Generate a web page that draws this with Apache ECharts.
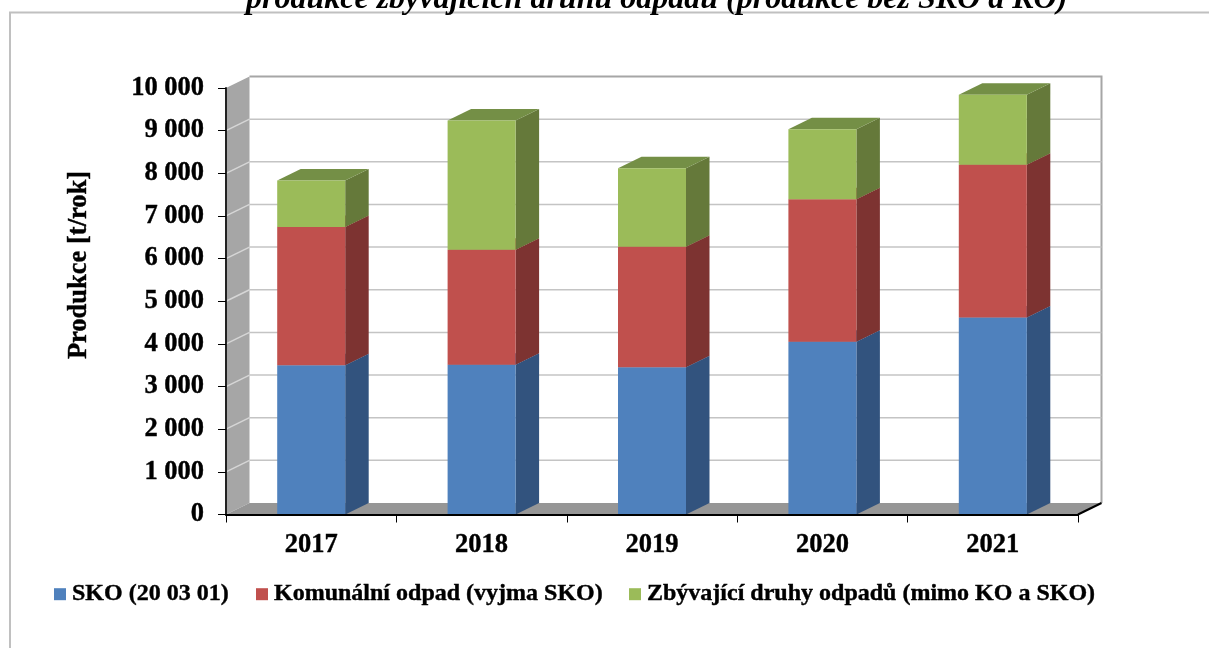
<!DOCTYPE html>
<html>
<head>
<meta charset="utf-8">
<title>Produkce odpadů</title>
<script src="https://cdn.jsdelivr.net/npm/echarts@6/dist/echarts.min.js"></script>
<style>
  html, body { margin: 0; padding: 0; background: #fff; overflow: hidden; }
  #main-chart { width: 1209px; height: 648px; }
</style>
</head>
<body>
<div id="main-chart"></div>
<script>
const years = ['2017', '2018', '2019', '2020', '2021']
const sko = [3500, 3510, 3450, 4050, 4620]
const komunalni = [3240, 2700, 2830, 3340, 3580]
const zbyvajici = [1090, 3030, 1840, 1640, 1640]
const yTicks = [0, 1000, 2000, 3000, 4000, 5000, 6000, 7000, 8000, 9000, 10000]

const FONT = '"Liberation Serif", "Times New Roman", serif'
const DEPTH_X = 23.5
const DEPTH_Y = -11.5
const BAR_WIDTH = 68
// the source text is slightly heavier than Liberation bold, a hairline outline evens it out
const HEAVY = { textBorderColor: '#000', textBorderWidth: 0.4 }

const stackSeries = [
  { name: 'SKO (20 03 01)', values: sko, front: '#4f81bd', side: '#32537e', top: '#4070a5' },
  { name: 'Komunální odpad (vyjma SKO)', values: komunalni, front: '#c0504d', side: '#7d3331', top: '#a04340' },
  { name: 'Zbývající druhy odpadů (mimo KO a SKO)', values: zbyvajici, front: '#9bbb59', side: '#65793a', top: '#748f46' },
]

function poly(points, fill) {
  return { type: 'polygon', silent: true, shape: { points }, style: { fill } }
}

function renderWalls(params, api) {
  const x0 = params.coordSys.x
  const x1 = x0 + params.coordSys.width
  const [, y0] = api.coord([0, 0])
  const [, yTop] = api.coord([0, 10000])
  const children = [
    poly([[x0, y0], [x0 + DEPTH_X, y0 + DEPTH_Y], [x0 + DEPTH_X, yTop + DEPTH_Y], [x0, yTop]], '#a6a6a6'),
    poly([[x0, y0], [x1, y0], [x1 + DEPTH_X, y0 + DEPTH_Y], [x0 + DEPTH_X, y0 + DEPTH_Y]], '#969696'),
    {
      type: 'polyline',
      silent: true,
      shape: { points: [[x0 + DEPTH_X, yTop + DEPTH_Y], [x1 + DEPTH_X, yTop + DEPTH_Y], [x1 + DEPTH_X, y0 + DEPTH_Y]] },
      style: { stroke: '#a6a6a6', lineWidth: 2, fill: null },
    },
    {
      type: 'line',
      silent: true,
      shape: { x1: x1, y1: y0, x2: x1 + DEPTH_X, y2: y0 + DEPTH_Y },
      style: { stroke: '#000', lineWidth: 2 },
    },
  ]
  return { type: 'group', children }
}

function renderGridline(params, api) {
  const x0 = params.coordSys.x
  const x1 = x0 + params.coordSys.width
  const [, y] = api.coord([0, api.value(1)])
  const yBack = y + DEPTH_Y
  if (api.value(1) === 0 || api.value(1) === 10000) return { type: 'group', children: [] }
  return {
    type: 'group',
    children: [
      { type: 'line', silent: true, shape: { x1: x0 + DEPTH_X, y1: yBack, x2: x1 + DEPTH_X, y2: yBack }, style: { stroke: '#c4c4c4', lineWidth: 1.5 } },
      { type: 'line', silent: true, shape: { x1: x0, y1: y, x2: x0 + DEPTH_X, y2: yBack }, style: { stroke: '#d6d6d6', lineWidth: 1.5 } },
    ],
  }
}

function renderSegment(seriesIndex) {
  const cfg = stackSeries[seriesIndex]
  return (params, api) => {
    const i = api.value(0)
    let base = 0
    for (let s = 0; s < seriesIndex; s++) base += stackSeries[s].values[i]
    const total = base + cfg.values[i]
    const [cx, yBase] = api.coord([i, base])
    const [, yTotal] = api.coord([i, total])
    const left = cx - BAR_WIDTH / 2
    const right = cx + BAR_WIDTH / 2
    const children = [
      poly([[right, yBase], [right + DEPTH_X, yBase + DEPTH_Y], [right + DEPTH_X, yTotal + DEPTH_Y], [right, yTotal]], cfg.side),
      poly([[left, yTotal], [right, yTotal], [right + DEPTH_X, yTotal + DEPTH_Y], [left + DEPTH_X, yTotal + DEPTH_Y]], cfg.top),
      poly([[left, yBase], [right, yBase], [right, yTotal], [left, yTotal]], cfg.front),
    ]
    return { type: 'group', children }
  }
}

function legendAt(left, name) {
  return {
    left,
    top: 577,
    icon: 'rect',
    itemWidth: 12,
    itemHeight: 12,
    data: [name],
    textStyle: { fontFamily: FONT, fontSize: 24, fontWeight: 'bold', color: '#000', padding: [2, 0, 0, 1], ...HEAVY },
  }
}

const chart = echarts.init(document.getElementById('main-chart'), null, { renderer: 'canvas' })

chart.setOption({
  animation: false,
  backgroundColor: '#fff',
  title: {
    text: 'produkce zbývajících druhů odpadů (produkce bez SKO a KO)',
    left: 241,
    top: -21,
    textStyle: { fontFamily: FONT, fontSize: 32, fontWeight: 'bold', fontStyle: 'italic', color: '#000' },
  },
  legend: [
    legendAt(49, stackSeries[0].name),
    legendAt(251, stackSeries[1].name),
    legendAt(624, stackSeries[2].name),
  ],
  grid: { left: 226, top: 88, width: 852, height: 426.5 },
  xAxis: {
    type: 'category',
    data: years,
    axisLine: { lineStyle: { color: '#000', width: 2 } },
    axisTick: { show: true, alignWithLabel: false, length: 8, lineStyle: { color: '#000', width: 1 } },
    axisLabel: { fontFamily: FONT, fontSize: 26.5, fontWeight: 'bold', color: '#000', margin: 17, ...HEAVY },
    z: 10,
  },
  yAxis: {
    type: 'value',
    min: 0,
    max: 10000,
    interval: 1000,
    splitLine: { show: false },
    axisLine: { show: true, lineStyle: { color: '#222', width: 2 } },
    axisTick: { show: true, length: 8, lineStyle: { color: '#000', width: 1 } },
    axisLabel: {
      fontFamily: FONT,
      fontSize: 26.5,
      fontWeight: 'bold',
      color: '#000',
      margin: 22,
      padding: [2, 0, 0, 0],
      ...HEAVY,
      formatter: v => String(v).replace(/\B(?=(\d{3})+$)/g, ' '),
    },
    z: 10,
  },
  graphic: [
    {
      type: 'polyline',
      silent: true,
      shape: { points: [[10, 648], [10, 12.5], [1209, 12.5]] },
      style: { stroke: '#c0c0c0', lineWidth: 2, fill: null },
    },
    {
      type: 'text',
      silent: true,
      x: 79,
      y: 265,
      rotation: Math.PI / 2,
      style: {
        text: 'Produkce [t/rok]',
        font: 'bold 26.5px ' + FONT,
        fill: '#000',
        stroke: '#000',
        lineWidth: 0.4,
        align: 'center',
        verticalAlign: 'middle',
      },
    },
  ],
  series: [
    { type: 'custom', name: 'walls', silent: true, renderItem: renderWalls, data: [[0, 0]], z: 1 },
    { type: 'custom', name: 'gridlines', silent: true, renderItem: renderGridline, data: yTicks.map(t => [0, t]), z: 2 },
    ...stackSeries.map((s, idx) => ({
      type: 'custom',
      name: s.name,
      itemStyle: { color: s.front },
      renderItem: renderSegment(idx),
      data: s.values.map((v, i) => [i, v]),
      z: 3 + idx,
    })),
  ],
})
</script>
</body>
</html>
